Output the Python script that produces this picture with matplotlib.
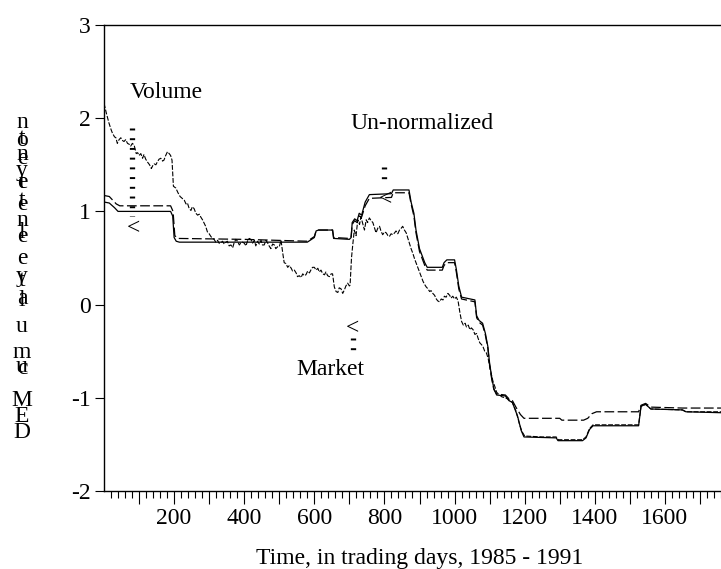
import matplotlib
matplotlib.use("Agg")
import matplotlib.pyplot as plt
from matplotlib.ticker import FixedLocator, NullFormatter

# ================================
# DATA
# ================================
# solid step-like line
solid_x = [1, 15, 30, 40, 190, 196, 200, 206, 215, 580, 588, 600, 605, 612, 652, 655, 700,
           705, 708, 715, 722, 728, 735, 745, 757, 820, 825, 870, 876, 884, 890, 900, 908,
           915, 922, 965, 970, 978, 1000, 1005, 1012, 1020, 1058, 1063, 1070, 1080, 1088,
           1095, 1100, 1106, 1112, 1120, 1145, 1155, 1165, 1180, 1190, 1198, 1290, 1295,
           1365, 1375, 1385, 1395, 1525, 1532, 1545, 1560, 1650, 1660, 1760]
solid_y = [1.10, 1.09, 1.04, 1.00, 1.00, 0.95, 0.72, 0.68, 0.67, 0.67, 0.69, 0.72, 0.79,
           0.80, 0.80, 0.71, 0.70, 0.72, 0.88, 0.92, 0.90, 0.98, 0.96, 1.10, 1.18, 1.19,
           1.23, 1.23, 1.10, 0.98, 0.80, 0.60, 0.52, 0.45, 0.40, 0.40, 0.45, 0.48, 0.48,
           0.38, 0.20, 0.08, 0.05, -0.12, -0.17, -0.20, -0.31, -0.45, -0.63, -0.78, -0.90,
           -0.97, -0.98, -1.03, -1.05, -1.20, -1.35, -1.42, -1.43, -1.46, -1.46, -1.43,
           -1.34, -1.30, -1.30, -1.09, -1.07, -1.12, -1.13, -1.15, -1.16]

# long-dash line, close to the solid one
dash_x = [1, 15, 35, 45, 190, 197, 202, 210, 400, 580, 588, 600, 605, 612, 652, 655, 700,
          705, 708, 715, 722, 728, 735, 745, 757, 820, 825, 870, 876, 884, 890, 900, 908,
          915, 922, 965, 970, 978, 1000, 1005, 1012, 1020, 1058, 1063, 1070, 1080, 1088,
          1095, 1100, 1106, 1112, 1120, 1145, 1155, 1165, 1175, 1188, 1198, 1300, 1306,
          1368, 1380, 1392, 1405, 1525, 1532, 1545, 1560, 1650, 1660, 1760]
dash_y = [1.17, 1.16, 1.08, 1.06, 1.06, 1.00, 0.74, 0.71, 0.70, 0.68, 0.70, 0.73, 0.79,
          0.80, 0.80, 0.72, 0.71, 0.73, 0.86, 0.90, 0.88, 0.95, 0.94, 1.06, 1.14, 1.15,
          1.20, 1.20, 1.08, 0.95, 0.77, 0.57, 0.49, 0.42, 0.37, 0.37, 0.42, 0.45, 0.45,
          0.35, 0.17, 0.06, 0.03, -0.14, -0.19, -0.22, -0.33, -0.47, -0.65, -0.80, -0.91,
          -0.96, -0.97, -1.01, -1.03, -1.10, -1.18, -1.22, -1.22, -1.24, -1.24, -1.22,
          -1.17, -1.15, -1.15, -1.08, -1.06, -1.10, -1.11, -1.11, -1.11]

# short-dash noisy line
noisy_x = [0, 7, 14, 20, 24, 30, 34, 38, 43, 48, 53, 57, 62, 67, 72, 76, 81, 86, 92, 96,
           100, 105, 110, 114, 119, 124, 130, 135, 139, 143, 148, 152, 157, 162, 167, 171,
           176, 181, 186, 190, 194, 198, 205, 211, 217, 223, 229, 234, 238, 243, 248, 252,
           257, 262, 267, 272, 276, 281, 286, 290, 295, 300, 305, 310, 314, 319, 324, 328,
           333, 338, 343, 348, 352, 357, 362, 367, 371, 376, 381, 386, 390, 395, 400, 405,
           410, 414, 419, 424, 429, 433, 438, 443, 448, 452, 457, 462, 467, 471, 476, 481,
           486, 490, 495, 500, 505, 510, 514, 519, 524, 529, 534, 538, 543, 548, 552, 557,
           562, 567, 571, 576, 581, 586, 590, 595, 600, 605, 610, 614, 619, 624, 629, 633,
           638, 643, 648, 652, 657, 662, 667, 671, 676, 681, 686, 690, 695, 700, 702, 706,
           709, 714, 719, 724, 729, 733, 738, 743, 748, 752, 757, 762, 767, 771, 776, 781,
           786, 790, 795, 800, 805, 810, 814, 819, 824, 829, 833, 838, 843, 848, 852, 857,
           862, 867, 871, 876, 881, 886, 890, 895, 900, 905, 910, 914, 919, 924, 929, 933,
           938, 943, 948, 952, 957, 962, 967, 971, 976, 981, 986, 990, 995, 1000, 1005,
           1010, 1015, 1020, 1025, 1030, 1034, 1039, 1044, 1048, 1053, 1058, 1063, 1067,
           1072, 1077, 1081, 1086, 1091, 1096, 1100, 1105, 1110, 1115, 1120, 1125, 1135,
           1145, 1155, 1165, 1175, 1185, 1192, 1200, 1250, 1290, 1296, 1365, 1375, 1385,
           1395, 1525, 1532, 1545, 1560, 1650, 1660, 1760]
noisy_y = [2.16, 2.05, 1.95, 1.88, 1.84, 1.80, 1.79, 1.73, 1.77, 1.79, 1.76, 1.75, 1.77,
           1.73, 1.72, 1.70, 1.73, 1.71, 1.62, 1.63, 1.60, 1.62, 1.57, 1.61, 1.56, 1.53,
           1.50, 1.46, 1.49, 1.51, 1.50, 1.53, 1.56, 1.57, 1.54, 1.55, 1.60, 1.64, 1.62,
           1.60, 1.55, 1.27, 1.25, 1.20, 1.16, 1.14, 1.12, 1.08, 1.09, 1.03, 1.01, 1.05,
           1.03, 0.98, 0.96, 0.97, 0.94, 0.91, 0.87, 0.84, 0.78, 0.76, 0.73, 0.71, 0.70,
           0.67, 0.69, 0.66, 0.66, 0.68, 0.65, 0.67, 0.68, 0.63, 0.64, 0.61, 0.66, 0.70,
           0.68, 0.64, 0.66, 0.67, 0.66, 0.63, 0.69, 0.71, 0.70, 0.66, 0.69, 0.63, 0.68,
           0.65, 0.69, 0.64, 0.64, 0.69, 0.66, 0.63, 0.60, 0.65, 0.64, 0.60, 0.62, 0.62,
           0.69, 0.55, 0.45, 0.44, 0.40, 0.42, 0.39, 0.36, 0.37, 0.34, 0.30, 0.31, 0.29,
           0.33, 0.31, 0.32, 0.36, 0.34, 0.37, 0.40, 0.40, 0.37, 0.39, 0.35, 0.37, 0.33,
           0.32, 0.35, 0.31, 0.30, 0.33, 0.33, 0.19, 0.14, 0.13, 0.18, 0.17, 0.12, 0.16,
           0.20, 0.23, 0.20, 0.21, 0.50, 0.62, 0.80, 0.74, 0.91, 0.86, 0.94, 0.87, 0.80,
           0.91, 0.88, 0.93, 0.90, 0.88, 0.83, 0.77, 0.82, 0.84, 0.79, 0.75, 0.78, 0.77,
           0.74, 0.73, 0.76, 0.75, 0.77, 0.79, 0.76, 0.80, 0.82, 0.84, 0.80, 0.77, 0.71,
           0.66, 0.60, 0.55, 0.49, 0.45, 0.40, 0.35, 0.30, 0.25, 0.22, 0.19, 0.17, 0.14,
           0.15, 0.12, 0.10, 0.06, 0.04, 0.03, 0.06, 0.05, 0.09, 0.08, 0.12, 0.10, 0.07,
           0.09, 0.06, 0.08, 0.04, -0.08, -0.18, -0.22, -0.20, -0.24, -0.22, -0.27, -0.25,
           -0.27, -0.32, -0.31, -0.36, -0.41, -0.43, -0.45, -0.50, -0.52, -0.58, -0.66,
           -0.75, -0.83, -0.88, -0.94, -0.96, -0.99, -1.00, -1.02, -1.05, -1.14, -1.28,
           -1.36, -1.41, -1.42, -1.42, -1.45, -1.45, -1.42, -1.33, -1.29, -1.29, -1.09,
           -1.07, -1.12, -1.13, -1.15, -1.15]

x_ticks = [200, 400, 600, 800, 1000, 1200, 1400, 1600]
y_ticks = [-2, -1, 0, 1, 2, 3]
x_label = "Time, in trading days, 1985 - 1991"

# annotations: (text, x, y) and arrows (x, y_top, y_bottom, head x, head y)
notes = [("Volume", 177, 2.28), ("Un-normalized", 906, 1.94), ("Market", 646, -0.70)]
arrows = [(80, 1.89, 0.95, 83, 0.81), (800, 1.48, 1.27, 803, 1.13), (711, -0.36, -0.56, 709, -0.26)]

# garbled, stacked y-axis label (character, pixel row from the top)
ylab_chars = [("n", 123), ("o", 140), ("t", 139), ("n", 155), ("e", 158), ("y", 170),
              ("e", 183), ("t", 183), ("t", 200), ("e", 205), ("n", 220), ("l", 233),
              ("e", 236), ("e", 258), ("y", 276), ("t", 281), ("a", 299), ("l", 300),
              ("u", 326), ("m", 352), ("u", 366), ("c", 369), ("M", 401), ("E", 416),
              ("D", 432)]

# ================================
# FIGURE
# ================================
plt.rcParams["font.family"] = ["Liberation Serif", "DejaVu Serif"]
plt.rcParams["lines.scale_dashes"] = False
FS = 17

W, H = 721, 569
fig = plt.figure(figsize=(W / 100, H / 100), dpi=100)
ax = fig.add_axes([104 / W, 1 - 491 / H, 631 / W, 466 / H])

ax.plot(solid_x, solid_y, color="black", lw=0.9)
ax.plot(dash_x, dash_y, color="black", lw=0.9, dashes=(7, 2.5))
ax.plot(noisy_x, noisy_y, color="black", lw=0.8, dashes=(3.5, 1.2))

ax.set_xlim(0, 1800)
ax.set_ylim(-2, 3)

# ticks
major_x = list(range(100, 1800, 100))
ax.xaxis.set_major_locator(FixedLocator(major_x))
ax.set_xticklabels([str(v) if v in x_ticks else "" for v in major_x], fontsize=FS)
ax.xaxis.set_minor_locator(FixedLocator([v for v in range(20, 1800, 20) if v % 100]))
ax.xaxis.set_minor_formatter(NullFormatter())
ax.tick_params(axis="x", which="major", length=9, width=0.8, pad=3, direction="out")
ax.tick_params(axis="x", which="minor", length=5, width=0.8, direction="out")

ax.set_yticks(y_ticks)
ax.set_yticklabels([str(v) for v in y_ticks], fontsize=FS)
ax.tick_params(axis="y", length=6.5, width=0.8, pad=3, direction="out")

for s in ax.spines.values():
    s.set_linewidth(1.0)
ax.spines["right"].set_visible(False)

ax.set_xlabel(x_label, fontsize=FS, labelpad=14)

# ================================
# ANNOTATIONS
# ================================
for txt, x, y in notes:
    ax.text(x, y, txt, fontsize=FS, ha="center", va="center")

for xa, y0, y1, hx, hy in arrows:
    ax.plot([xa, xa], [y0, y1], color="black", lw=3.8, solid_capstyle="butt",
            dash_capstyle="butt", dashes=(1.4, 5.6))
    ax.text(hx, hy, "<", fontsize=FS, ha="center", va="center")

for ch, py in ylab_chars:
    fig.text(22 / W, 1 - py / H, ch, fontsize=FS, ha="center", va="center")

fig.savefig("out.png", dpi=100)
